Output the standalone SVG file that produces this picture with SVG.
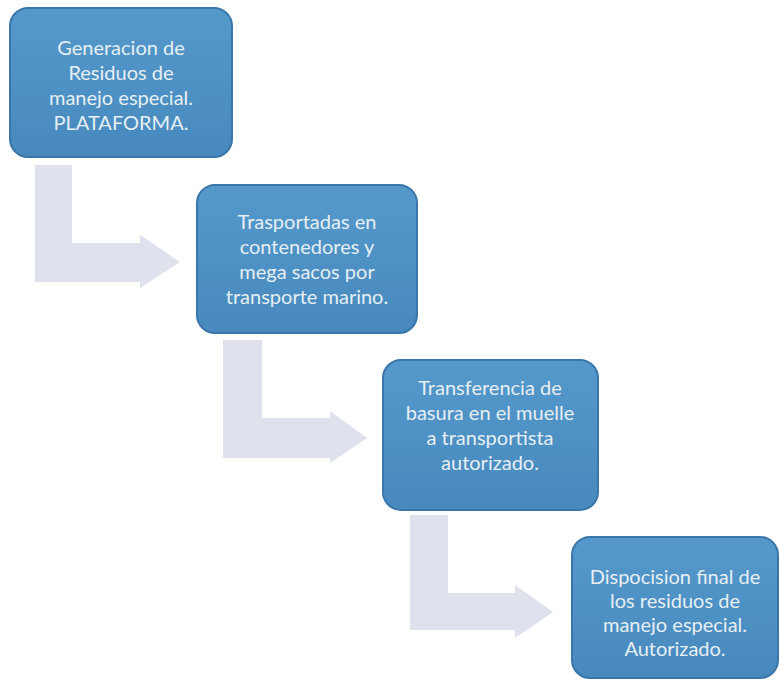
<svg xmlns="http://www.w3.org/2000/svg" width="780" height="681" viewBox="0 0 780 681">
<defs>
<linearGradient id="bf" x1="0" y1="0" x2="0" y2="1">
<stop offset="0" stop-color="#5599cb"/>
<stop offset="1" stop-color="#4789be"/>
</linearGradient>
<style>
.box{fill:url(#bf);stroke:#3a76aa;stroke-width:2}
.arr{fill:#dfe1ec;stroke:none}
.t{font-family:Lato,"Liberation Sans",sans-serif;font-size:20px;fill:#e6eff2;text-anchor:middle}
</style>
</defs>
<rect width="780" height="681" fill="#ffffff"/>
<g id="connectors">
<polygon class="arr" points="35,165 72,165 72,243 140,243 140,235 180,262 140,288 140,282 35,282"/>
<polygon class="arr" points="223,340 262,340 262,418 330,418 330,411 367,438 330,463 330,458 223,458"/>
<polygon class="arr" points="410,515 448,515 448,593 515,593 515,585 553,612 515,638 515,630 410,630"/>
</g>
<g id="node1">
<rect class="box" x="10" y="8" width="222" height="149" rx="18"/>
<text class="t" x="121" y="55">Generacion de</text>
<text class="t" x="121" y="80">Residuos de</text>
<text class="t" x="121" y="105">manejo especial.</text>
<text class="t" x="121" y="130">PLATAFORMA.</text>
</g>
<g id="node2">
<rect class="box" x="197" y="185" width="220" height="148" rx="18"/>
<text class="t" x="307" y="229">Trasportadas en</text>
<text class="t" x="307" y="254">contenedores y</text>
<text class="t" x="307" y="279">mega sacos por</text>
<text class="t" x="307" y="304">transporte marino.</text>
</g>
<g id="node3">
<rect class="box" x="383" y="360" width="215" height="150" rx="18"/>
<text class="t" x="490" y="395">Transferencia de</text>
<text class="t" x="490" y="420">basura en el muelle</text>
<text class="t" x="490" y="445">a transportista</text>
<text class="t" x="490" y="470">autorizado.</text>
</g>
<g id="node4">
<rect class="box" x="572" y="537" width="206" height="141" rx="18"/>
<text class="t" x="675" y="584">Dispocision final de</text>
<text class="t" x="675" y="608">los residuos de</text>
<text class="t" x="675" y="632">manejo especial.</text>
<text class="t" x="675" y="656">Autorizado.</text>
</g>
</svg>
